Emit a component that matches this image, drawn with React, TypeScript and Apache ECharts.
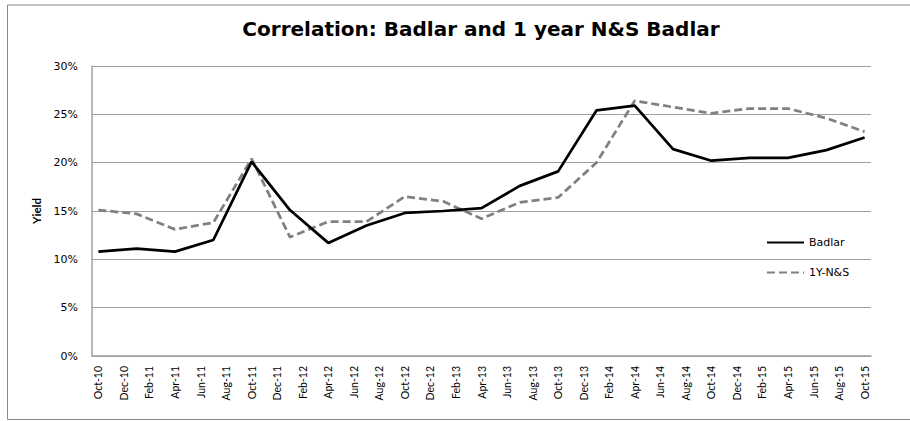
import React, { useEffect, useRef } from "react";
import * as echarts from "echarts";

const months = [
  "Oct-10","Nov-10","Dec-10","Jan-11","Feb-11","Mar-11","Apr-11","May-11","Jun-11","Jul-11","Aug-11","Sep-11",
  "Oct-11","Nov-11","Dec-11","Jan-12","Feb-12","Mar-12","Apr-12","May-12","Jun-12","Jul-12","Aug-12","Sep-12",
  "Oct-12","Nov-12","Dec-12","Jan-13","Feb-13","Mar-13","Apr-13","May-13","Jun-13","Jul-13","Aug-13","Sep-13",
  "Oct-13","Nov-13","Dec-13","Jan-14","Feb-14","Mar-14","Apr-14","May-14","Jun-14","Jul-14","Aug-14","Sep-14",
  "Oct-14","Nov-14","Dec-14","Jan-15","Feb-15","Mar-15","Apr-15","May-15","Jun-15","Jul-15","Aug-15","Sep-15",
  "Oct-15",
];

const quarterDates = [
  "Oct-10","Jan-11","Apr-11","Jul-11","Oct-11","Jan-12","Apr-12","Jul-12","Oct-12","Jan-13","Apr-13",
  "Jul-13","Oct-13","Jan-14","Apr-14","Jul-14","Oct-14","Jan-15","Apr-15","Jul-15","Oct-15",
];

const badlar = [
  10.8, 11.1, 10.8, 12.0, 20.1, 15.1, 11.7, 13.5, 14.8, 15.0, 15.3,
  17.6, 19.1, 25.4, 25.9, 21.4, 20.2, 20.5, 20.5, 21.3, 22.6,
];

const ns1y = [
  15.1, 14.7, 13.1, 13.8, 20.4, 12.3, 13.9, 13.9, 16.5, 16.0, 14.2,
  15.9, 16.4, 20.0, 26.4, 25.75, 25.1, 25.6, 25.6, 24.6, 23.2,
];

const yTicks = [0, 5, 10, 15, 20, 25, 30];

const WIDE = "'DejaVu Sans', sans-serif";
const NARROW = "Lato, sans-serif";

export default function App() {
  const ref = useRef<HTMLDivElement>(null);

  useEffect(() => {
    if (!ref.current) return;
    const chart = echarts.init(ref.current, undefined, { renderer: "svg" });
    const toPairs = (vals: number[]) => quarterDates.map((d, i) => [d, vals[i]]);
    chart.setOption({
      animation: false,
      backgroundColor: "#ffffff",
      textStyle: { fontFamily: WIDE },
      title: {
        text: "Correlation: Badlar and 1 year N&S Badlar",
        left: 476,
        textAlign: "center",
        top: 14,
        textStyle: { fontFamily: WIDE, fontSize: 20, fontWeight: "bold", color: "#000" },
      },
      graphic: [
        {
          type: "rect",
          shape: { x: 7.5, y: 5, width: 920, height: 414.5 },
          style: { fill: "none", stroke: "#898989", lineWidth: 1 },
          silent: true,
        },
      ],
      legend: {
        orient: "vertical",
        left: 766,
        top: 237,
        padding: 0,
        itemWidth: 37,
        itemHeight: 10,
        itemGap: 19,
        itemStyle: { opacity: 0 },
        textStyle: { fontFamily: WIDE, fontSize: 11, color: "#000" },
        data: ["Badlar", "1Y-N&S"],
      },
      grid: { left: 92, right: 39, top: 66, bottom: 65, containLabel: false },
      xAxis: {
        type: "category",
        data: months,
        boundaryGap: true,
        axisLine: { lineStyle: { color: "#a0a0a0", width: 1.5 } },
        axisTick: { show: false },
        axisLabel: {
          interval: 1,
          rotate: 90,
          margin: 10,
          fontFamily: NARROW,
          fontSize: 10.5,
          color: "#000",
        },
        splitLine: { show: false },
      },
      yAxis: {
        type: "value",
        min: yTicks[0],
        max: yTicks[yTicks.length - 1],
        interval: 5,
        name: "Yield",
        nameLocation: "middle",
        nameGap: 43,
        nameTextStyle: { fontFamily: NARROW, fontSize: 11.5, fontWeight: "bold", color: "#000" },
        axisLine: { show: true, lineStyle: { color: "#a0a0a0", width: 1.5 } },
        axisTick: { show: false },
        axisLabel: {
          formatter: (v: number) => `${v}%`,
          margin: 14,
          fontFamily: WIDE,
          fontSize: 11,
          color: "#000",
        },
        splitLine: { show: true, lineStyle: { color: "#a0a0a0", width: 1.2 } },
      },
      series: [
        {
          name: "Badlar",
          type: "line",
          data: toPairs(badlar),
          showSymbol: false,
          symbol: "none",
          lineStyle: { color: "#000000", width: 2.75 },
          itemStyle: { color: "#000000" },
          z: 3,
        },
        {
          name: "1Y-N&S",
          type: "line",
          data: toPairs(ns1y),
          showSymbol: false,
          symbol: "none",
          lineStyle: { color: "#808080", width: 2.75, type: [8, 4] },
          itemStyle: { color: "#808080" },
          z: 2,
        },
      ],
    });
    return () => chart.dispose();
  }, []);

  return (
    <div
      ref={ref}
      style={{ position: "absolute", left: 0, top: 0, width: 910, height: 421 }}
    />
  );
}
